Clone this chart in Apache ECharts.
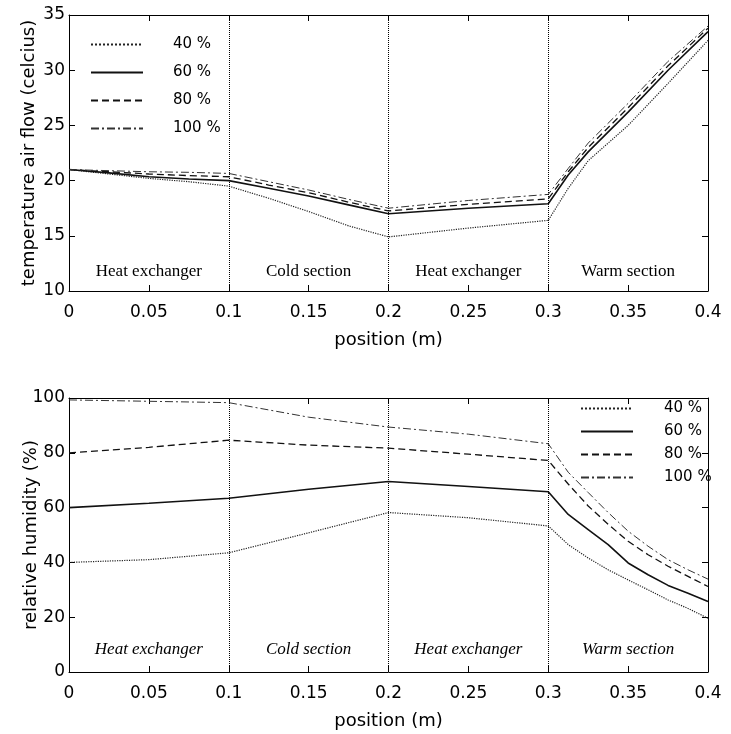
<!DOCTYPE html>
<html>
<head>
<meta charset="utf-8">
<script src="https://cdn.jsdelivr.net/npm/echarts@6/dist/echarts.min.js"></script>
<style>
html,body{margin:0;padding:0;background:#fff;}
#chart{width:731px;height:734px;}
</style>
</head>
<body>
<div id="chart"></div>
<script>
// ---------- data ----------
const seriesNames = ['40 %', '60 %', '80 %', '100 %'];
const xTickLabels = ['0', '0.05', '0.1', '0.15', '0.2', '0.25', '0.3', '0.35', '0.4'];
const sectionBounds = [0, 0.1, 0.2, 0.3, 0.4];
const sectionNames = ['Heat exchanger', 'Cold section', 'Heat exchanger', 'Warm section'];

// top chart: temperature air flow (celcius)
const posTop = [0, 0.025, 0.05, 0.075, 0.1, 0.125, 0.15, 0.175, 0.2, 0.25, 0.3, 0.3125, 0.325, 0.35, 0.375, 0.4];
const temp40  = [21.0, 20.6, 20.2, 19.9, 19.5, 18.4, 17.2, 15.9, 14.9, 15.7, 16.4, 19.3, 21.8, 25.0, 28.8, 32.7];
const temp60  = [21.0, 20.7, 20.35, 20.15, 20.0, 19.3, 18.6, 17.8, 17.0, 17.5, 17.9, 20.5, 22.6, 26.2, 30.0, 33.5];
const temp80  = [21.0, 20.8, 20.6, 20.45, 20.35, 19.6, 18.9, 18.05, 17.25, 17.85, 18.35, 20.8, 23.0, 26.6, 30.4, 33.8];
const temp100 = [21.0, 20.9, 20.8, 20.75, 20.65, 19.9, 19.15, 18.3, 17.5, 18.2, 18.75, 21.1, 23.4, 27.0, 30.8, 34.0];

// bottom chart: relative humidity (%)
const posBot = [0, 0.05, 0.1, 0.15, 0.2, 0.25, 0.3, 0.3125, 0.325, 0.3375, 0.35, 0.3625, 0.375, 0.3875, 0.4];
const rh40  = [40.0, 41.0, 43.5, 50.8, 58.2, 56.3, 53.3, 46.5, 41.6, 37.3, 33.6, 30.0, 26.3, 23.2, 19.6];
const rh60  = [60.0, 61.6, 63.4, 66.7, 69.5, 67.7, 65.8, 57.5, 52.0, 46.5, 39.8, 35.5, 31.6, 28.75, 25.7];
const rh80  = [80.0, 82.0, 84.6, 82.8, 81.7, 79.5, 77.2, 68.6, 60.6, 53.9, 47.7, 42.8, 38.6, 34.9, 31.2];
const rh100 = [99.3, 98.8, 98.3, 93.0, 89.4, 86.8, 83.3, 72.9, 65.5, 58.2, 51.4, 45.9, 41.0, 37.3, 33.9];

// ---------- styles ----------
const SANS = 'DejaVu Sans';
const SERIF = 'Liberation Serif';
const lineStyles = [
  {type: 'dotted', width: 1.2, color: '#222'},
  {type: 'solid', width: 1.6, color: '#111'},
  {type: [7, 4], width: 1.3, color: '#111'},
  {type: [8, 3, 2, 3], width: 1, color: '#333'}
];

function pairs(xs, ys) { return xs.map((x, i) => [x, ys[i]]); }

function mainXAxis(gridIndex) {
  return {
    type: 'value', gridIndex, min: 0, max: 0.4, interval: 0.05,
    name: 'position (m)', nameLocation: 'middle', nameGap: 40,
    nameTextStyle: {fontFamily: SANS, fontSize: 18, color: '#000'},
    axisLine: {show: true, onZero: false, lineStyle: {color: '#000', width: 1}},
    axisTick: {show: true, inside: true, length: 6, lineStyle: {color: '#000'}},
    axisLabel: {fontFamily: SANS, fontSize: 17, color: '#000', margin: 13,
      formatter: v => xTickLabels[Math.round(v / 0.05)]},
    splitLine: {show: false}
  };
}
function topXAxis(gridIndex) {
  return {
    type: 'value', gridIndex, min: 0, max: 0.4, interval: 0.05, position: 'top',
    axisLine: {show: true, onZero: false, lineStyle: {color: '#000', width: 1}},
    axisTick: {show: true, inside: true, length: 6, lineStyle: {color: '#000'}},
    axisLabel: {show: false}, splitLine: {show: false}
  };
}
function leftYAxis(gridIndex, min, max, interval, name, gap) {
  return {
    type: 'value', gridIndex, min, max, interval,
    name, nameLocation: 'middle', nameGap: gap, nameMoveOverlap: false,
    nameTextStyle: {fontFamily: SANS, fontSize: 18, color: '#000'},
    axisLine: {show: true, onZero: false, lineStyle: {color: '#000', width: 1}},
    axisTick: {show: true, inside: true, length: 6, lineStyle: {color: '#000'}},
    axisLabel: {fontFamily: SANS, fontSize: 17, color: '#000', margin: 4},
    splitLine: {show: false}
  };
}
function rightYAxis(gridIndex, min, max, interval) {
  return {
    type: 'value', gridIndex, min, max, interval, position: 'right',
    axisLine: {show: true, onZero: false, lineStyle: {color: '#000', width: 1}},
    axisTick: {show: true, inside: true, length: 6, lineStyle: {color: '#000'}},
    axisLabel: {show: false}, splitLine: {show: false}
  };
}

function sectionArea(italic, distance) {
  const data = [];
  for (let i = 0; i < sectionNames.length; i++) {
    data.push([{xAxis: sectionBounds[i], name: sectionNames[i]}, {xAxis: sectionBounds[i + 1]}]);
  }
  return {
    silent: true,
    itemStyle: {color: 'rgba(0,0,0,0)'},
    label: {show: true, position: 'insideBottom', distance,
      fontFamily: SERIF, fontSize: 17, fontStyle: italic ? 'italic' : 'normal', color: '#000'},
    data
  };
}
function dividerLines() {
  return {
    silent: true, symbol: ['none', 'none'], label: {show: false},
    lineStyle: {type: 'dotted', color: '#000', width: 1},
    data: sectionBounds.slice(1, -1).map(x => ({xAxis: x}))
  };
}

const topData = [temp40, temp60, temp80, temp100];
const botData = [rh40, rh60, rh80, rh100];
const series = [];
seriesNames.forEach((name, i) => {
  const s = {
    name, type: 'line', xAxisIndex: 0, yAxisIndex: 0, symbol: 'none',
    lineStyle: lineStyles[i], itemStyle: {color: lineStyles[i].color},
    data: pairs(posTop, topData[i]), z: 3
  };
  if (i === 0) { s.markLine = dividerLines(); s.markArea = sectionArea(false, 11); }
  series.push(s);
});
seriesNames.forEach((name, i) => {
  const s = {
    name, type: 'line', xAxisIndex: 2, yAxisIndex: 2, symbol: 'none',
    lineStyle: lineStyles[i], itemStyle: {color: lineStyles[i].color},
    data: pairs(posBot, botData[i]), z: 3
  };
  if (i === 0) { s.markLine = dividerLines(); s.markArea = sectionArea(true, 14); }
  series.push(s);
});

const option = {
  backgroundColor: '#fff',
  animation: false,
  grid: [
    {left: 69, right: 23, top: 15, height: 276, outerBoundsMode: 'none', containLabel: false},
    {left: 69, right: 23, top: 398, height: 274, outerBoundsMode: 'none', containLabel: false}
  ],
  xAxis: [mainXAxis(0), topXAxis(0), mainXAxis(1), topXAxis(1)],
  yAxis: [
    leftYAxis(0, 10, 35, 5, 'temperature air flow (celcius)', 31),
    rightYAxis(0, 10, 35, 5),
    leftYAxis(1, 0, 100, 20, 'relative humidity (%)', 29),
    rightYAxis(1, 0, 100, 20)
  ],
  legend: [
    {
      left: 90, top: 37, padding: 0, orient: 'vertical', itemWidth: 52, itemHeight: 14, itemGap: 13,
      data: seriesNames, selectedMode: false,
      itemStyle: {opacity: 0},
      textStyle: {fontFamily: SANS, fontSize: 15, color: '#000', padding: [0, 0, 0, 25]}
    },
    {
      left: 580, top: 401, padding: 0, orient: 'vertical', itemWidth: 52, itemHeight: 14, itemGap: 8,
      data: seriesNames, selectedMode: false,
      itemStyle: {opacity: 0},
      textStyle: {fontFamily: SANS, fontSize: 15, color: '#000', padding: [0, 0, 0, 26]}
    }
  ],
  series
};

const chart = echarts.init(document.getElementById('chart'), null, {renderer: 'canvas'});
chart.setOption(option);
</script>
</body>
</html>
